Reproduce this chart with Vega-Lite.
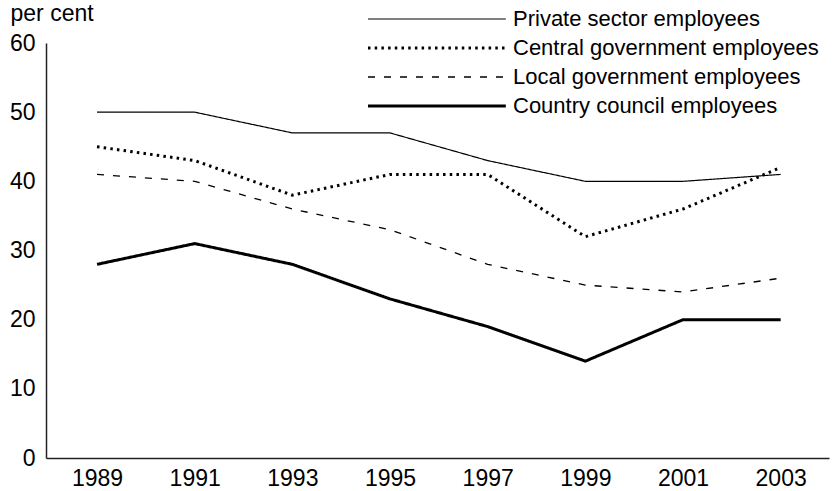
{
  "$schema": "https://vega.github.io/schema/vega-lite/v6.json",
  "width": 783,
  "height": 415,
  "autosize": {"type": "none"},
  "padding": {"left": 46, "top": 43, "right": 7, "bottom": 33},
  "background": "white",
  "config": {"view": {"stroke": null}, "font": "Liberation Sans"},
  "data": {"values": [
    {"series": "Private sector employees", "year": 1989, "value": 50},
    {"series": "Private sector employees", "year": 1991, "value": 50},
    {"series": "Private sector employees", "year": 1993, "value": 47},
    {"series": "Private sector employees", "year": 1995, "value": 47},
    {"series": "Private sector employees", "year": 1997, "value": 43},
    {"series": "Private sector employees", "year": 1999, "value": 40},
    {"series": "Private sector employees", "year": 2001, "value": 40},
    {"series": "Private sector employees", "year": 2003, "value": 41},
    {"series": "Central government employees", "year": 1989, "value": 45},
    {"series": "Central government employees", "year": 1991, "value": 43},
    {"series": "Central government employees", "year": 1993, "value": 38},
    {"series": "Central government employees", "year": 1995, "value": 41},
    {"series": "Central government employees", "year": 1997, "value": 41},
    {"series": "Central government employees", "year": 1999, "value": 32},
    {"series": "Central government employees", "year": 2001, "value": 36},
    {"series": "Central government employees", "year": 2003, "value": 42},
    {"series": "Local government employees", "year": 1989, "value": 41},
    {"series": "Local government employees", "year": 1991, "value": 40},
    {"series": "Local government employees", "year": 1993, "value": 36},
    {"series": "Local government employees", "year": 1995, "value": 33},
    {"series": "Local government employees", "year": 1997, "value": 28},
    {"series": "Local government employees", "year": 1999, "value": 25},
    {"series": "Local government employees", "year": 2001, "value": 24},
    {"series": "Local government employees", "year": 2003, "value": 26},
    {"series": "Country council employees", "year": 1989, "value": 28},
    {"series": "Country council employees", "year": 1991, "value": 31},
    {"series": "Country council employees", "year": 1993, "value": 28},
    {"series": "Country council employees", "year": 1995, "value": 23},
    {"series": "Country council employees", "year": 1997, "value": 19},
    {"series": "Country council employees", "year": 1999, "value": 14},
    {"series": "Country council employees", "year": 2001, "value": 20},
    {"series": "Country council employees", "year": 2003, "value": 20}
  ]},
  "mark": {"type": "line", "color": "black"},
  "encoding": {
    "x": {
      "field": "year", "type": "quantitative",
      "scale": {"domain": [1987.955, 2003.99], "nice": false, "zero": false},
      "axis": {"values": [1989, 1991, 1993, 1995, 1997, 1999, 2001, 2003], "format": "d", "title": null, "grid": false, "ticks": false, "labelFontSize": 23, "labelPadding": 9, "labelColor": "black", "domainColor": "#222", "domainWidth": 1.5, "labelFlush": false}
    },
    "y": {
      "field": "value", "type": "quantitative",
      "scale": {"domain": [0, 60], "nice": false},
      "axis": {"values": [0, 10, 20, 30, 40, 50, 60], "title": "per cent", "titleAngle": 0, "titleAlign": "left", "titleBaseline": "alphabetic", "titleX": -36, "titleY": -23, "titleFontSize": 23, "titleFontWeight": "normal", "titleColor": "black", "grid": false, "ticks": false, "labelFontSize": 23, "labelPadding": 11, "labelColor": "black", "domainColor": "#222", "domainWidth": 1.5, "labelFlush": false}
    },
    "strokeDash": {
      "field": "series", "type": "nominal",
      "scale": {"domain": ["Private sector employees", "Central government employees", "Local government employees", "Country council employees"], "range": [[1, 0], [2.5, 4.2], [7, 9], [1, 0]]},
      "legend": {"orient": "none", "legendX": 311, "legendY": -35, "title": null, "symbolType": "M0,0H20", "symbolSize": 190, "symbolStrokeColor": "black", "symbolFillColor": "transparent", "labelFontSize": 22, "labelOffset": 134, "labelLimit": 500, "labelColor": "black", "rowPadding": 7, "padding": 0}
    },
    "strokeWidth": {
      "field": "series", "type": "nominal",
      "scale": {"type": "ordinal", "domain": ["Private sector employees", "Central government employees", "Local government employees", "Country council employees"], "range": [1.2, 3, 1.3, 3]},
      "legend": {"orient": "none", "legendX": 311, "legendY": -35, "title": null, "symbolType": "M0,0H20", "symbolSize": 190, "symbolStrokeColor": "black", "symbolFillColor": "transparent", "labelFontSize": 22, "labelOffset": 134, "labelLimit": 500, "labelColor": "black", "rowPadding": 7, "padding": 0}
    }
  }
}
